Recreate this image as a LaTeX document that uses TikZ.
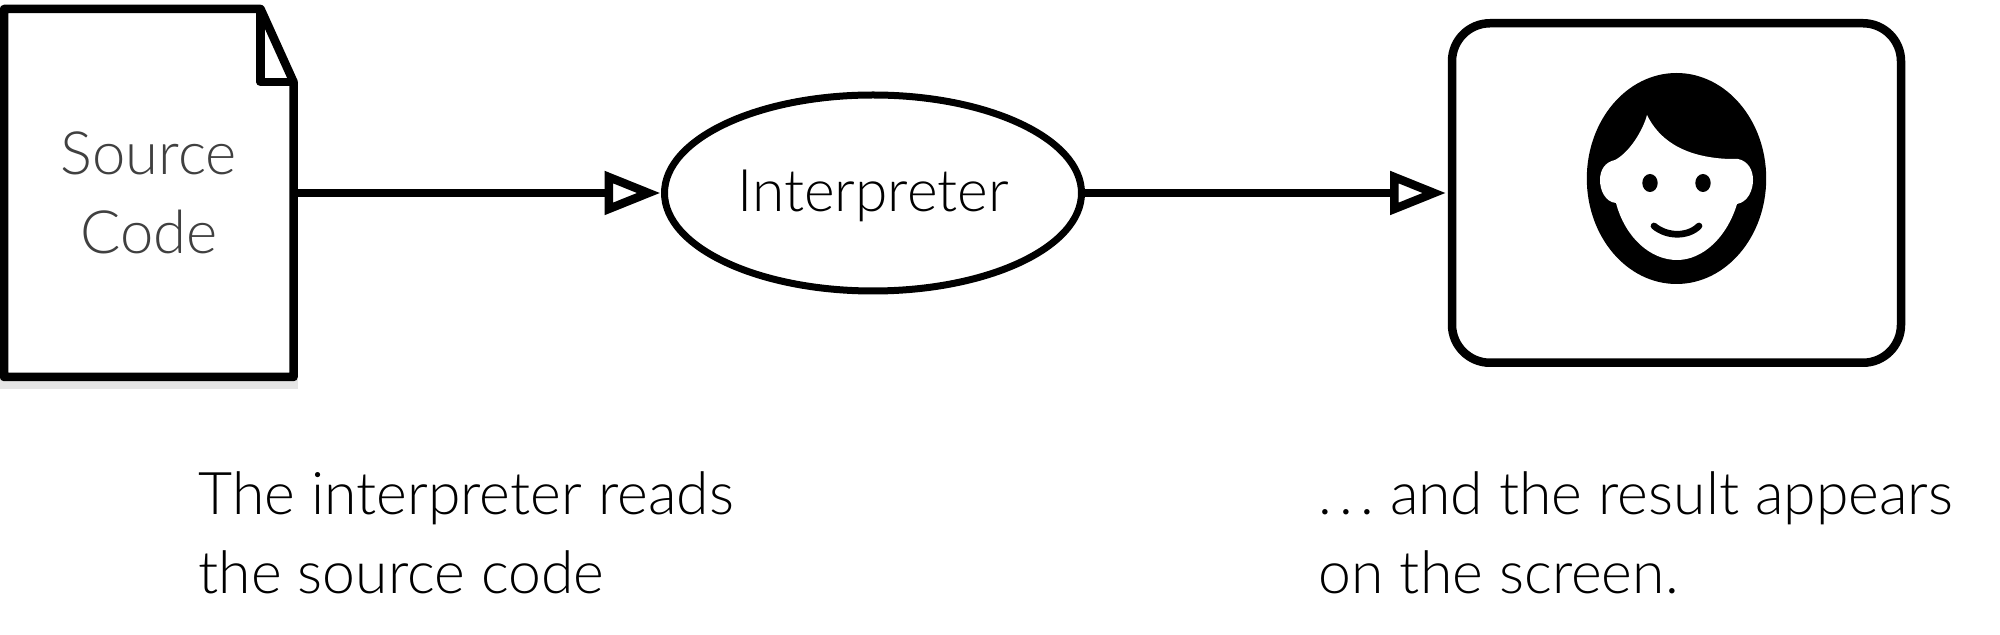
\documentclass[tikz,border=0pt]{standalone}
\usepackage{fontspec}
\setmainfont{Lato}[UprightFont=* Light]
\usetikzlibrary{arrows.meta,calc,shapes.geometric}
\tikzset{
    heavy/.style={draw=black,line width=0.085cm,line join=round},
    arrowline/.style={heavy,-{Triangle[open,length=0.56cm,width=0.42cm,fill=white]}},
    caption/.style={anchor=north west,align=left,inner sep=0pt,font=\fontsize{16.75}{22.5}\selectfont},
}
\begin{document}
\begin{tikzpicture}
    \useasboundingbox (0,0) rectangle (20,6.35);
    \fill[black!10] (0,2.46) rectangle (2.98,2.58);
    \node[minimum width=2.896cm,minimum height=3.68cm,inner sep=0pt,outer sep=0pt,align=center,text=black!75,
        font=\fontsize{17}{22.5}\selectfont] (source) at (1.488,4.42) {Source\\Code};
    \draw[heavy,fill=none] (source.north west) -- ($(source.north east)+(-0.33,0)$)
        -- ($(source.north east)+(0,-0.73)$) -- (source.south east) -- (source.south west) -- cycle;
    \draw[heavy] ($(source.north east)+(-0.33,0)$) -- ++(0,-0.73) -- ($(source.north east)+(0,-0.73)$);

    \node[ellipse,heavy,line width=0.07cm,minimum width=4.17cm,minimum height=1.96cm,inner sep=0pt,outer sep=0pt,
        font=\fontsize{16.7}{18}\selectfont] (interp) at (8.73,4.42) {\raisebox{-0.03cm}[\height][\depth]{Interpreter}};

    \node[rectangle,rounded corners=0.38cm,heavy,minimum width=4.49cm,minimum height=3.395cm,
        outer sep=0pt] (screen) at (16.765,4.42) {};

    \draw[arrowline,shorten >=0.04cm] (source.east) -- (interp.west);
    \draw[arrowline,shorten >=0.06cm] (interp.east) -- (screen.west);

    % the face
    \fill[black] (16.765,4.565) ellipse (0.897cm and 1.055cm);
    \fill[white] (16.47,5.20) .. controls (16.63,4.87) and (16.97,4.77) .. (17.30,4.76)
        -- (17.38,4.76) .. controls (17.48,4.74) and (17.53,4.65) .. (17.53,4.55)
        .. controls (17.53,4.45) and (17.48,4.33) .. (17.37,4.31)
        .. controls (17.27,3.98) and (17.03,3.75) .. (16.77,3.75)
        .. controls (16.50,3.75) and (16.25,3.98) .. (16.16,4.32)
        .. controls (16.05,4.33) and (16.00,4.45) .. (16.00,4.55)
        .. controls (16.00,4.65) and (16.05,4.73) .. (16.15,4.75)
        .. controls (16.30,4.83) and (16.43,5.05) .. (16.47,5.20) -- cycle;
    \fill[black] (16.50,4.52) ellipse (0.077cm and 0.09cm);
    \fill[black] (17.03,4.52) ellipse (0.077cm and 0.09cm);
    \draw[black,line width=0.067cm,line cap=round] (16.54,4.09) .. controls (16.67,3.98) and (16.88,3.98) .. (16.99,4.09);

    \node[caption] (readnote) at (1.98,1.645) {The interpreter reads\\the source code};
    \node[caption] (resultnote) at (13.18,1.645) {.\kern2pt.\kern2pt.\ and the result appears\\on the screen.};
\end{tikzpicture}
\end{document}
